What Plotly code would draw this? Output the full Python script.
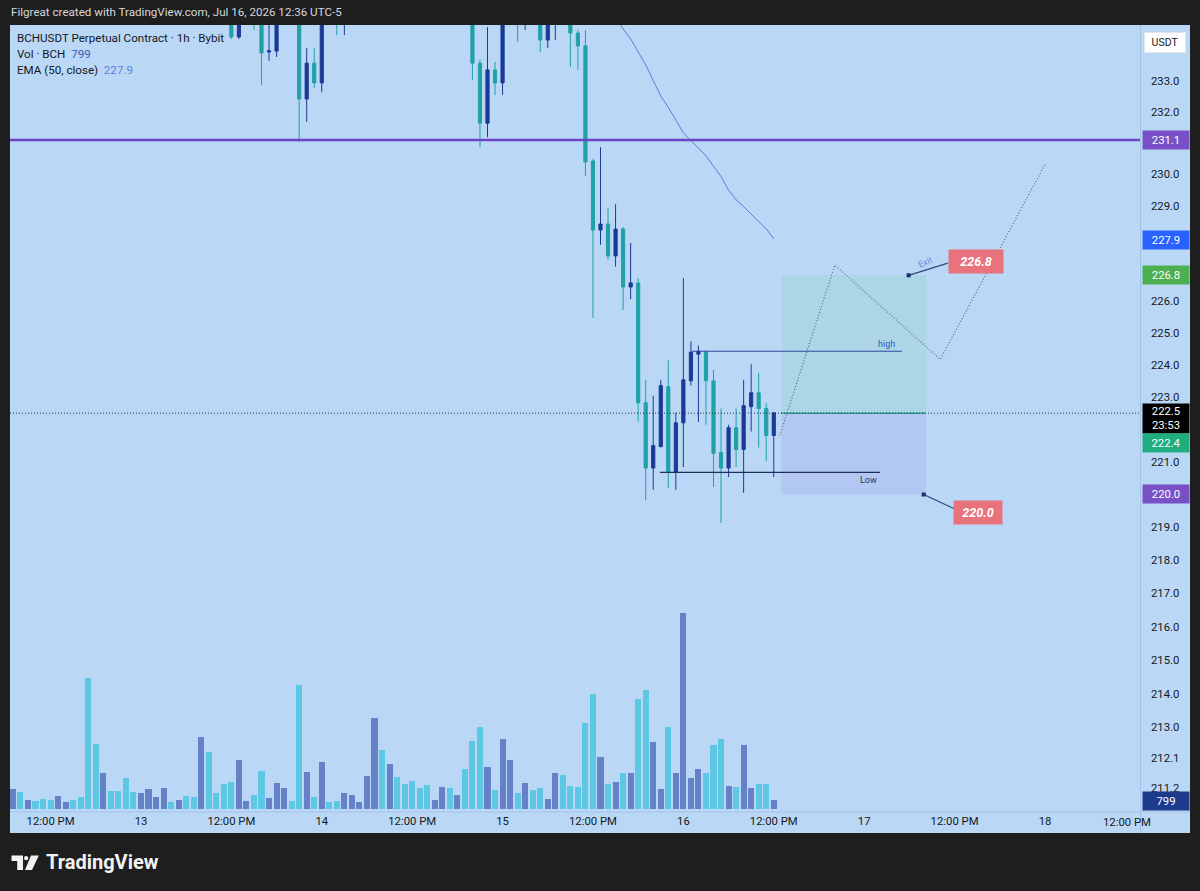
import math
import pandas as pd
import plotly.graph_objects as go

# ---------------- data ----------------
start_time = pd.Timestamp("2026-07-12 07:00")   # first hourly candle

opens = [236.2, 236.6, 236.3, 236.7, 236.4, 236.1, 235.9, 236.3, 236.5, 236.2,
         235.9, 235.3, 235.2, 236.0, 235.8, 235.6, 235.4, 235.3, 235.7, 236.0,
         236.1, 236.4, 236.3, 236.5, 236.3, 236.0, 236.8, 236.1, 235.8, 235.3,
         234.43, 235.1, 235.4, 235.0, 233.94, 233.97, 235.2, 235.6, 235.3, 232.42,
         233.58, 232.94, 235.3, 235.2, 234.95, 235.3, 235.6, 235.8, 235.9, 236.3,
         236.0, 236.4, 236.1, 235.9, 235.7, 235.5, 235.4, 235.5, 235.8, 235.6,
         235.7, 235.3, 233.58, 231.64, 233.36, 232.94, 235.0, 235.4, 235.0, 235.3,
         235.1, 234.33, 235.1, 235.4, 235.2, 234.56, 234.14, 230.43, 228.23, 228.42,
         227.41, 228.26, 226.43, 226.56, 222.82, 220.81, 221.47, 223.32, 220.68, 222.20,
         223.50, 224.33, 224.39, 223.50, 221.29, 220.81, 222.05, 221.38, 222.70, 223.13,
         222.64, 221.81]
highs = [236.9, 236.8, 236.9, 236.9, 236.6, 236.4, 236.5, 236.6, 236.7, 236.4,
         236.1, 235.6, 236.2, 236.2, 236.0, 235.9, 235.7, 235.9, 236.2, 236.3,
         236.6, 236.5, 236.7, 236.7, 236.4, 237.0, 237.0, 236.3, 236.0, 235.5,
         235.4, 235.6, 235.6, 235.2, 234.9, 235.4, 235.9, 235.8, 235.5, 234.07,
         234.07, 235.3, 235.5, 235.4, 235.5, 235.8, 236.0, 236.1, 236.5, 236.5,
         236.6, 236.6, 236.3, 236.2, 236.0, 235.8, 235.7, 236.0, 236.0, 235.9,
         235.9, 235.5, 233.7, 234.75, 233.62, 235.3, 235.6, 235.6, 235.5, 235.5,
         235.4, 235.4, 235.6, 235.6, 235.4, 234.66, 234.66, 230.5, 230.87, 228.93,
         229.05, 228.33, 227.82, 226.71, 223.53, 223.04, 223.53, 224.14, 222.51, 226.71,
         224.73, 224.60, 224.45, 223.84, 222.64, 222.14, 222.64, 223.53, 224.02, 223.75,
         222.82, 222.51]
lows = [235.8, 236.0, 236.1, 236.2, 235.9, 235.7, 235.8, 236.1, 236.0, 235.8,
        235.1, 235.0, 235.1, 235.6, 235.4, 235.2, 235.1, 235.2, 235.5, 235.8,
        235.9, 236.1, 236.2, 236.1, 235.9, 235.8, 235.9, 235.6, 235.2, 234.36,
        234.36, 235.0, 234.66, 232.87, 233.65, 233.78, 235.0, 235.1, 231.03, 231.68,
        232.77, 232.64, 234.95, 234.49, 234.49, 235.1, 235.4, 235.6, 235.7, 235.9,
        235.8, 235.9, 235.7, 235.5, 235.4, 235.2, 235.3, 235.3, 235.4, 235.4,
        235.1, 233.03, 230.87, 231.19, 232.55, 232.55, 234.95, 234.27, 234.66, 234.95,
        233.94, 234.07, 234.33, 235.0, 233.45, 233.36, 229.95, 225.46, 227.76, 227.29,
        227.07, 225.71, 226.05, 222.23, 219.83, 220.14, 221.44, 220.20, 220.14, 220.84,
        223.35, 222.23, 222.14, 220.23, 219.13, 220.53, 220.84, 220.05, 221.93, 221.44,
        221.02, 220.53]
closes = [236.6, 236.3, 236.7, 236.4, 236.1, 235.9, 236.3, 236.5, 236.2, 235.9,
          235.3, 235.2, 236.0, 235.8, 235.6, 235.4, 235.3, 235.7, 236.0, 236.1,
          236.4, 236.3, 236.5, 236.3, 236.0, 236.8, 236.1, 235.8, 235.3, 234.43,
          235.1, 235.4, 235.0, 233.91, 233.98, 235.2, 235.6, 235.3, 232.42, 233.58,
          232.94, 235.0, 235.05, 234.95, 235.3, 235.6, 235.8, 235.9, 236.3, 236.0,
          236.4, 236.1, 235.9, 235.7, 235.5, 235.4, 235.5, 235.8, 235.6, 235.7,
          235.3, 233.58, 231.64, 233.36, 232.94, 235.0, 235.4, 235.0, 235.3, 235.1,
          234.33, 235.1, 235.4, 235.2, 234.56, 234.14, 230.40, 228.23, 228.42, 227.41,
          228.26, 226.43, 226.56, 222.82, 220.81, 221.50, 223.35, 220.68, 222.20, 223.53,
          224.39, 224.42, 223.50, 221.26, 220.81, 222.05, 221.38, 222.73, 223.13, 222.64,
          221.81, 222.51]
volumes = [1720, 1462, 800, 714, 886, 800, 1118, 576, 800, 1032,
           11266, 5590, 3096, 1522, 1574, 2640, 1462, 1376, 1746, 1032,
           1832, 628, 774, 1092, 1032, 6166, 4902, 1350, 2176, 2296,
           4240, 714, 1204, 3294, 946, 2262, 1832, 714, 10638, 3208,
           1058, 4016, 576, 662, 1376, 1204, 576, 2812, 7852, 5100,
           3870, 2726, 2150, 2434, 1832, 2064, 800, 1918, 1832, 1204,
           3440, 5822, 7026, 3612, 1608, 6020, 4240, 1376, 2262, 1660,
           1832, 886, 3070, 2950, 2004, 1918, 7370, 9916, 4498, 2176,
           2348, 3070, 3070, 9460, 10260, 5762, 1694, 7026, 3070, 16882,
           2666, 3466, 3070, 5504, 6020, 2004, 1918, 5478, 1780, 2124,
           2124, 799]

ema_first_index = 79
ema_values = [235.47, 235.07, 234.69, 234.37, 233.96, 233.52, 233.02, 232.52, 232.15,
              231.74, 231.33, 231.08, 230.84, 230.59, 230.26, 229.93, 229.50, 229.19,
              228.97, 228.75, 228.50, 228.27, 227.95]

price_ticks = [233, 232, 230, 229, 226, 225, 224, 223, 221, 219, 218, 217,
               216, 215, 214, 213, 212.1, 211.2]
price_tick_labels = ["233.0", "232.0", "230.0", "229.0", "226.0", "225.0",
                     "224.0", "223.0", "221.0", "219.0", "218.0", "217.0", "216.0",
                     "215.0", "214.0", "213.0", "212.1", "211.2"]
time_ticks = ["2026-07-12 12:00", "2026-07-13 00:00", "2026-07-13 12:00", "2026-07-14 00:00",
              "2026-07-14 12:00", "2026-07-15 00:00", "2026-07-15 12:00", "2026-07-16 00:00",
              "2026-07-16 12:00", "2026-07-17 00:00", "2026-07-17 12:00", "2026-07-18 00:00"]
time_tick_labels = ["12:00 PM", "13", "12:00 PM", "14", "12:00 PM", "15", "12:00 PM",
                    "16", "12:00 PM", "17", "12:00 PM", "18"]

level_price = 231.1
last_price = 222.5
last_volume = 799
ema_last = 227.9

# position tool (long)
pos_entry, pos_target, pos_stop = 222.5, 226.8, 220.0
pos_start_h, pos_end_h = 102.0, 121.2
# projected path drawing (hours from start, price)
proj_hours = [101.8, 109.1, 123.1, 137.1]
proj_prices = [221.81, 227.12, 224.17, 230.36]
high_level, high_span = 224.42, (90.15, 118.0)
low_level, low_span = 220.68, (85.9, 115.1)
exit_anchor = (118.9, 226.8)
exit_link_end = (124.1, 227.18)
exit_label_pos = (127.8, 227.25)
stop_anchor = (120.9, 220.0)
stop_link_end = (125.1, 219.55)
stop_label_pos = (128.1, 219.46)

# ---------------- styling ----------------
W, H = 1200, 891
FONT = "Roboto"
BG = "#bad8f6"
FRAME = "#1e1e1e"
UP = "#1b3a96"
DOWN = "#20a1a8"
VOL_UP = "#6582c9"
VOL_DOWN = "#5ec8e4"
TXT = "#131722"
FS = 11.3


def t_at(h):
    return start_time + pd.Timedelta(hours=h)


def px_x(x):
    return x / W


def px_y(y):
    return 1 - y / H


times = [t_at(i) for i in range(len(opens))]
vol_colors = [VOL_UP if c >= o else VOL_DOWN for o, c in zip(opens, closes)]

x_start = t_at(-0.385)
x_end = t_at(-0.385 + 150.0)
y_low, y_high = 210.6, 234.82

fig = go.Figure()

fig.add_trace(go.Bar(
    x=times, y=volumes, yaxis="y2", marker=dict(color=vol_colors, line=dict(width=0)),
    width=0.8 * 3600 * 1000, hoverinfo="skip", showlegend=False))

fig.add_trace(go.Candlestick(
    x=times, open=opens, high=highs, low=lows, close=closes,
    increasing=dict(line=dict(color=UP, width=1), fillcolor=UP),
    decreasing=dict(line=dict(color=DOWN, width=1), fillcolor=DOWN),
    whiskerwidth=0, hoverinfo="skip", showlegend=False))

fig.add_trace(go.Scatter(
    x=[t_at(ema_first_index + k) for k in range(len(ema_values))], y=ema_values,
    mode="lines", line=dict(color="#5a7ed8", width=1), hoverinfo="skip", showlegend=False))

# projection path (dotted)
fig.add_trace(go.Scatter(
    x=[t_at(h) for h in proj_hours], y=proj_prices, mode="lines",
    line=dict(color="#566a85", width=1.2, dash="1px,2px"), hoverinfo="skip", showlegend=False))

# exit / stop connectors
for anchor, end in [(exit_anchor, exit_link_end), (stop_anchor, stop_link_end)]:
    fig.add_trace(go.Scatter(
        x=[t_at(anchor[0]), t_at(end[0])], y=[anchor[1], end[1]], mode="lines",
        line=dict(color="#2d4a80", width=1.3), hoverinfo="skip", showlegend=False))
    fig.add_trace(go.Scatter(
        x=[t_at(anchor[0])], y=[anchor[1]], mode="markers",
        marker=dict(symbol="square", size=4, color="#1b2f6b"), hoverinfo="skip", showlegend=False))

shapes = []
# chart panel background
shapes.append(dict(type="rect", xref="paper", yref="paper", x0=px_x(10), x1=px_x(1190),
                   y0=px_y(833), y1=px_y(25), fillcolor=BG, line=dict(width=0), layer="below"))
# price-axis separator
shapes.append(dict(type="line", xref="paper", yref="paper", x0=px_x(1140.5), x1=px_x(1140.5),
                   y0=px_y(833), y1=px_y(25), line=dict(color="#a3c3e6", width=1), layer="below"))
shapes.append(dict(type="line", xref="paper", yref="paper", x0=px_x(10), x1=px_x(1190),
                   y0=px_y(812), y1=px_y(812), line=dict(color="#a3c3e6", width=1), layer="below"))
# position zones
shapes.append(dict(type="rect", xref="x", yref="y", x0=t_at(pos_start_h), x1=t_at(pos_end_h),
                   y0=pos_entry, y1=pos_target, fillcolor="rgba(130,205,185,0.26)",
                   line=dict(width=0), layer="below"))
shapes.append(dict(type="rect", xref="x", yref="y", x0=t_at(pos_start_h), x1=t_at(pos_end_h),
                   y0=pos_stop, y1=pos_entry, fillcolor="rgba(155,145,232,0.24)",
                   line=dict(width=0), layer="below"))
shapes.append(dict(type="line", xref="x", yref="y", x0=t_at(pos_start_h), x1=t_at(pos_end_h),
                   y0=pos_entry, y1=pos_entry, line=dict(color="#26a69a", width=1.5)))
# horizontal level and last price
shapes.append(dict(type="line", xref="x domain", yref="y", x0=0, x1=1, y0=level_price,
                   y1=level_price, line=dict(color="#6b45c2", width=2.5)))
shapes.append(dict(type="line", xref="x domain", yref="y", x0=0, x1=1, y0=last_price,
                   y1=last_price, line=dict(color="#22304a", width=1, dash="1px,2px")))
# high / low lines
shapes.append(dict(type="line", xref="x", yref="y", x0=t_at(high_span[0]), x1=t_at(high_span[1]),
                   y0=high_level, y1=high_level, line=dict(color="#2c4a9c", width=1.2)))
shapes.append(dict(type="line", xref="x", yref="y", x0=t_at(low_span[0]), x1=t_at(low_span[1]),
                   y0=low_level, y1=low_level, line=dict(color="#1f2d5e", width=1.2)))

# TradingView logo glyph
def ppath(points):
    s = "M " + " L ".join(f"{px_x(x):.5f},{px_y(y):.5f}" for x, y in points) + " Z"
    return s

logo_col = "#f2f2f2"
shapes.append(dict(type="path", xref="paper", yref="paper",
                   path=ppath([(11.5, 855.5), (23, 855.5), (23, 870), (17.2, 870), (17.2, 861), (11.5, 861)]),
                   fillcolor=logo_col, line=dict(width=0)))
shapes.append(dict(type="circle", xref="paper", yref="paper", x0=px_x(24), x1=px_x(28.3),
                   y0=px_y(860.3), y1=px_y(856), fillcolor=logo_col, line=dict(width=0)))
shapes.append(dict(type="path", xref="paper", yref="paper",
                   path=ppath([(31, 855.5), (38.8, 855.5), (32, 870), (25, 870)]),
                   fillcolor=logo_col, line=dict(width=0)))

ann = []
def text_px(x, y, text, size=FS, color=TXT, xanchor="left", **kw):
    d = dict(xref="paper", yref="paper", x=px_x(x), y=px_y(y), text=text, showarrow=False,
             xanchor=xanchor, yanchor="middle", font=dict(family=FONT, size=size, color=color))
    d.update(kw)
    ann.append(d)

text_px(9, 12, "Filgreat created with TradingView.com, Jul 16, 2026 12:36 UTC-5", size=11.6, color="#d6d8de")
text_px(15, 38, "BCHUSDT Perpetual Contract · 1h · Bybit", size=11.6)
text_px(15, 54, f"Vol · BCH  <span style='color:#3b5cb8'>{last_volume}</span>", size=11.6)
text_px(15, 70, f"EMA (50, close)  <span style='color:#5a7fe0'>{ema_last}</span>", size=11.6)
text_px(44, 862, "<b>TradingView</b>", size=20, color=logo_col)
text_px(1127, 822, "12:00 PM", size=FS, xanchor="center")

# USDT box
ann.append(dict(xref="paper", yref="paper", x=px_x(1164.5), y=px_y(42), text="USDT", showarrow=False,
                xanchor="center", yanchor="middle", bgcolor="#ffffff", bordercolor="#dfe6ee",
                borderwidth=1, borderpad=3, width=34, font=dict(family=FONT, size=10.5, color=TXT)))

def axis_label(y_px, text, bg, h=16):
    ann.append(dict(xref="paper", yref="paper", x=px_x(1142), y=px_y(y_px), text=text, showarrow=False,
                    xanchor="left", yanchor="middle", bgcolor=bg, borderpad=1, width=44, height=h,
                    font=dict(family=FONT, size=FS, color="#ffffff")))

def y_of(p):
    return 81 + 7200 * math.log(233.0 / p)

axis_label(y_of(level_price), f"{level_price}", "#7a50c6")
axis_label(y_of(ema_last), f"{ema_last}", "#2962ff")
axis_label(y_of(pos_target), f"{pos_target}", "#4caf50")
axis_label(418.5, f"{last_price}<br>23:53", "#000000", h=27)
axis_label(442.5, "222.4", "#1fae7e")
axis_label(y_of(pos_stop), f"{pos_stop:.1f}", "#7a50c6")
axis_label(800.5, f"{last_volume}", "#1d3a8c")

# drawing labels (y in log10 units for log axis)
def data_text(h, p, text, size, color, **kw):
    d = dict(xref="x", yref="y", x=t_at(h), y=math.log10(p), text=text, showarrow=False,
             xanchor="center", yanchor="middle", font=dict(family=FONT, size=size, color=color))
    d.update(kw)
    ann.append(d)

data_text(116.0, 224.66, "high", 9, "#3557c0")
data_text(113.6, 220.45, "Low", 9, "#2a3a66")
data_text(121.2, 227.21, "Exit", 9, "#6f8de0", textangle=-25)
data_text(exit_label_pos[0], exit_label_pos[1], f"<b><i>{pos_target}</i></b>", 12.5, "#ffffff",
          bgcolor="#e8737c", borderpad=4, width=46)
data_text(stop_label_pos[0], stop_label_pos[1], f"<b><i>{pos_stop:.1f}</i></b>", 12.5, "#ffffff",
          bgcolor="#e8737c", borderpad=4, width=40)

fig.update_layout(
    width=W, height=H, margin=dict(l=0, r=0, t=0, b=0),
    paper_bgcolor=FRAME, plot_bgcolor="rgba(0,0,0,0)",
    showlegend=False, bargap=0, hovermode=False,
    boxgap=0.4,
    xaxis=dict(type="date", domain=[px_x(10), px_x(1140)], range=[x_start, x_end],
               rangeslider=dict(visible=False), showgrid=False, zeroline=False, showline=False,
               ticks="", tickvals=time_ticks, ticktext=time_tick_labels,
               tickfont=dict(family=FONT, size=FS, color=TXT), ticklabelstandoff=4,
               fixedrange=True),
    yaxis=dict(type="log", domain=[px_y(809), px_y(25)],
               range=[math.log10(y_low), math.log10(y_high)], side="right",
               showgrid=False, zeroline=False, showline=False, ticks="",
               tickvals=price_ticks, ticktext=price_tick_labels,
               tickfont=dict(family=FONT, size=FS, color=TXT), ticklabelstandoff=10,
               fixedrange=True),
    yaxis2=dict(overlaying="y", range=[0, 784 * 86], visible=False, fixedrange=True),
    shapes=shapes, annotations=ann,
)

fig.write_html("out.html", config={"displayModeBar": False})
